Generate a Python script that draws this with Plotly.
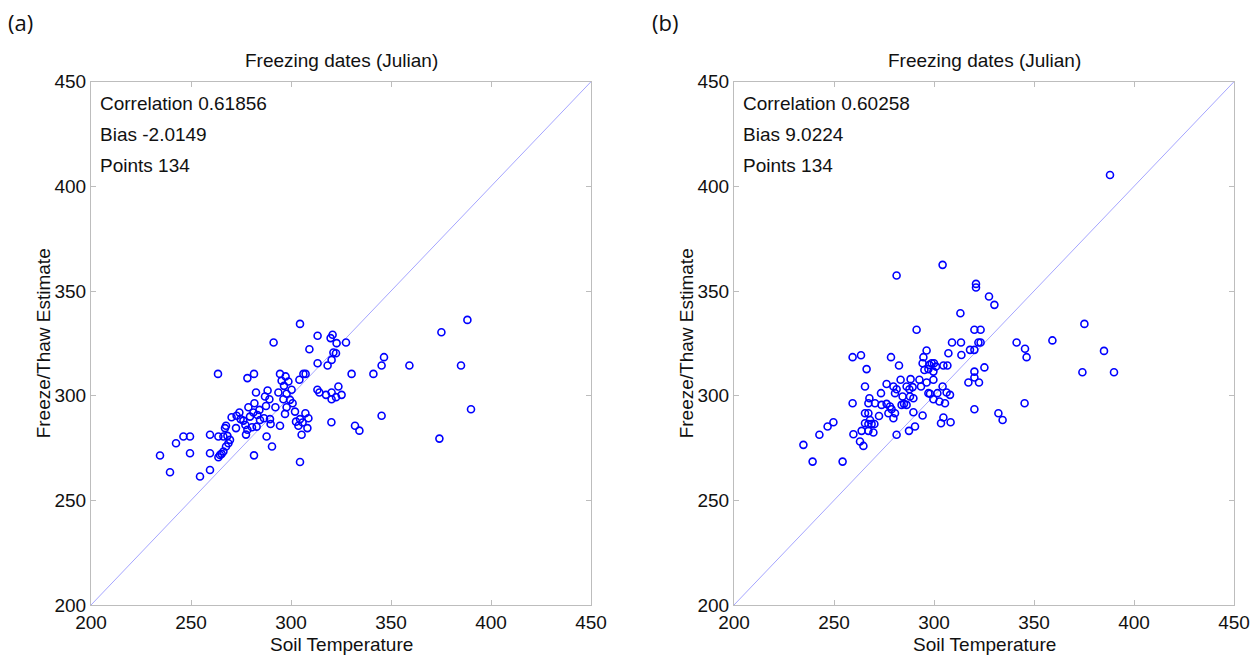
import plotly.graph_objects as go

# ---------------- data ----------------
soil_a = [304.5, 291.3, 309.2, 263.5, 278.2, 281.5, 294.5, 297.3, 295.3, 298.7, 296.5, 304.2, 306.2, 307.3,
          300.3, 293.7, 297.8, 282.5, 288.3, 287.0, 289.2, 296.2, 299.5, 300.8, 297.8, 302.0, 297.0, 292.2,
          281.7, 278.7, 284.2, 287.5, 281.2, 279.5, 283.2, 286.5, 284.5, 289.5, 289.8, 274.2, 272.8, 274.8,
          270.3, 276.2, 277.2, 278.2, 277.5, 267.5, 267.0, 272.5, 280.5, 282.8, 294.5, 302.5, 304.5, 307.2,
          308.7, 305.8, 303.7, 308.2, 305.3, 287.8, 290.5, 259.5, 263.7, 266.2, 268.2, 269.5, 268.7, 267.5,
          266.2, 265.3, 263.7, 264.5, 242.5, 246.2, 249.5, 234.5, 249.5, 259.5, 281.5, 239.5, 254.5, 259.5,
          304.5,
          313.3, 320.8, 319.8, 322.8, 327.5, 321.2, 322.5, 320.3, 313.3, 318.3, 330.3, 341.2, 345.3, 346.5,
          359.2, 375.2, 388.2, 385.0, 390.0, 374.2, 313.2, 314.2, 317.5, 320.3, 323.7, 325.3, 322.5, 320.3,
          320.2, 332.0, 334.2, 345.3]
est_a = [334.3, 325.4, 322.2, 310.4, 308.4, 310.4, 310.4, 309.2, 307.1, 306.8, 304.7, 307.6, 310.4, 310.4,
         302.8, 301.5, 300.9, 301.5, 302.5, 299.6, 298.3, 298.3, 298.0, 296.4, 294.5, 292.4, 291.3, 294.5,
         296.4, 294.5, 293.2, 295.1, 292.0, 290.0, 290.8, 289.2, 288.4, 288.8, 286.5, 292.0, 290.4, 288.8,
         289.7, 288.1, 286.0, 283.7, 281.4, 285.6, 284.5, 284.5, 284.9, 285.2, 285.6, 287.6, 288.8, 291.6,
         289.2, 287.2, 285.6, 284.5, 281.3, 280.5, 275.7, 281.3, 280.5, 280.5, 280.8, 278.9, 277.3, 275.7,
         273.3, 272.2, 270.6, 271.7, 277.3, 280.5, 280.5, 271.4, 272.5, 272.5, 271.5, 263.4, 261.4, 264.5,
         268.3,
         328.6, 329.1, 327.5, 325.1, 325.4, 320.6, 320.3, 317.1, 315.5, 314.4, 310.4, 310.4, 314.4, 318.4,
         314.4, 330.3, 336.2, 314.4, 293.5, 279.5, 302.8, 301.5, 300.4, 301.5, 304.4, 300.4, 299.3, 298.3,
         287.3, 285.6, 283.3, 290.4]

soil_b = [304.3, 281.3, 313.2, 291.3, 309.0, 313.5, 313.7, 296.3, 294.7, 294.3, 298.8, 300.0, 297.7, 301.0,
          304.7, 306.7, 307.2, 295.2, 297.2, 299.7, 278.5, 282.5, 259.3, 263.5, 266.3, 265.5, 276.3, 273.5,
          279.7, 281.3, 283.3, 288.3, 292.7, 286.3, 287.7, 289.3, 280.5, 284.3, 288.0, 289.7, 293.5, 296.3,
          299.7, 297.2, 298.0, 301.7, 304.3, 306.3, 308.0, 299.7, 302.7, 305.5, 285.0, 286.3, 283.8, 259.3,
          267.7, 267.2, 270.5, 273.8, 276.3, 278.0, 278.8, 280.5, 277.2, 279.7, 272.5, 265.5, 267.2, 265.5,
          267.2, 268.8, 270.2, 268.0, 263.8, 267.2, 269.7, 259.7, 289.7, 294.3, 304.7, 303.5, 308.3, 281.3,
          287.5, 290.5, 263.0, 264.7, 249.7, 246.8, 242.7, 234.7, 239.3, 254.3,
          321.0, 321.0, 327.5, 330.2, 320.2, 323.3, 322.2, 323.3, 318.0, 320.2, 341.3, 345.5, 346.3, 359.2,
          375.2, 385.0, 374.2, 390.0, 325.2, 320.2, 320.2, 317.2, 322.5, 320.2, 332.2, 334.3, 345.3, 388.0]
est_b = [362.5, 357.4, 339.4, 331.5, 325.4, 325.4, 319.4, 321.6, 318.4, 315.5, 315.5, 315.5, 314.7, 313.9,
         314.4, 314.4, 320.3, 312.3, 312.7, 311.5, 318.4, 314.4, 318.4, 319.3, 312.7, 304.4, 305.6, 301.2,
         304.4, 303.1, 307.6, 307.9, 307.6, 304.4, 303.1, 304.1, 301.2, 299.6, 299.6, 298.8, 304.4, 306.3,
         307.6, 301.2, 300.9, 301.2, 304.4, 301.5, 300.4, 298.3, 297.2, 296.4, 296.1, 295.6, 295.6, 296.4,
         298.8, 296.4, 296.4, 295.6, 296.1, 294.8, 293.5, 291.6, 291.6, 289.2, 290.3, 291.6, 291.6, 286.8,
         286.5, 286.5, 286.5, 288.4, 283.2, 283.2, 282.4, 281.6, 292.1, 290.5, 289.6, 286.8, 287.3, 281.3,
         283.2, 285.3, 278.1, 276.0, 287.3, 285.3, 281.3, 276.5, 268.5, 268.5,
         353.4, 351.7, 347.4, 343.4, 331.5, 331.5, 325.4, 325.4, 321.9, 321.9, 325.4, 322.4, 318.4, 326.4,
         334.3, 321.4, 311.2, 311.2, 313.5, 311.5, 308.7, 306.3, 306.3, 293.5, 291.6, 288.4, 296.4, 405.4]

one_to_one = [200, 450]
tick_vals = [200, 250, 300, 350, 400, 450]
tick_text = ["200", "250", "300", "350", "400", "450"]

panel_title = "Freezing dates (Julian)"
x_title = "Soil Temperature"
y_title = "Freeze/Thaw Estimate"
stats_a = ["Correlation 0.61856", "Bias -2.0149", "Points 134"]
stats_b = ["Correlation 0.60258", "Bias 9.0224", "Points 134"]

# ---------------- layout geometry (page pixels) ----------------
W, H = 1258, 655
ax_left = [(91, 591), (734, 1234)]
ax_top, ax_bot = 81.7, 605

def px(xp):
    return xp / W

def py(yp):
    return 1 - yp / H

FONT = "Liberation Sans, Arial, sans-serif"
FS = 19
fig = go.Figure()

panels = [(soil_a, est_a, stats_a, "(a)", 6), (soil_b, est_b, stats_b, "(b)", 650)]
annotations = []
for i, (sx, sy, stats, lab, labx) in enumerate(panels):
    xa = "x" if i == 0 else "x2"
    ya = "y" if i == 0 else "y2"
    fig.add_trace(go.Scatter(x=one_to_one, y=one_to_one, mode="lines", xaxis=xa, yaxis=ya,
                             line=dict(color="rgb(165,165,255)", width=1), showlegend=False,
                             hoverinfo="skip"))
    fig.add_trace(go.Scatter(x=sx, y=sy, mode="markers", xaxis=xa, yaxis=ya, showlegend=False,
                             marker=dict(symbol="circle-open", size=7, color="#0000ff",
                                         line=dict(width=1.6, color="#0000ff"))))
    l, r = ax_left[i]
    cx = (l + r) / 2
    annotations.append(dict(text=panel_title, x=px(cx), y=py(60), xref="paper", yref="paper",
                            showarrow=False, xanchor="center", yanchor="middle",
                            font=dict(family=FONT, size=FS, color="#111")))
    annotations.append(dict(text=x_title, x=px(cx), y=py(644), xref="paper", yref="paper",
                            showarrow=False, xanchor="center", yanchor="middle",
                            font=dict(family=FONT, size=FS, color="#111")))
    annotations.append(dict(text=y_title, x=px(l - 48), y=py((ax_top + ax_bot) / 2), xref="paper",
                            yref="paper", showarrow=False, xanchor="center", yanchor="middle",
                            textangle=-90, font=dict(family=FONT, size=FS, color="#111")))
    for k, s in enumerate(stats):
        annotations.append(dict(text=s, x=px(l + 7), y=py(103 + 31.5 * k), xref="paper", yref="paper",
                                showarrow=False, xanchor="left", yanchor="middle",
                                font=dict(family=FONT, size=FS, color="#111")))
    annotations.append(dict(text=lab, x=px(labx), y=py(22), xref="paper", yref="paper",
                            showarrow=False, xanchor="left", yanchor="middle",
                            font=dict(family="Open Sans, sans-serif", size=22, color="#111")))

axis_common = dict(range=[200, 450], tickvals=tick_vals, ticktext=tick_text, showgrid=False,
                   zeroline=False, showline=True, mirror="ticks", linecolor="#bdbdbd", linewidth=1,
                   ticks="inside", ticklen=5, tickcolor="#bdbdbd", automargin=False,
                   tickfont=dict(family=FONT, size=FS, color="#111"))

fig.update_layout(
    width=W, height=H, margin=dict(l=0, r=0, t=0, b=0),
    paper_bgcolor="white", plot_bgcolor="white",
    xaxis=dict(domain=[px(91), px(591)], anchor="y", **axis_common),
    yaxis=dict(domain=[py(ax_bot), py(ax_top)], anchor="x", **axis_common),
    xaxis2=dict(domain=[px(734), px(1234)], anchor="y2", **axis_common),
    yaxis2=dict(domain=[py(ax_bot), py(ax_top)], anchor="x2", **axis_common),
    annotations=annotations,
)

fig.write_html("out.html", config={"displayModeBar": False},
               post_script="document.body.style.margin='0';document.body.style.overflow='hidden';")
